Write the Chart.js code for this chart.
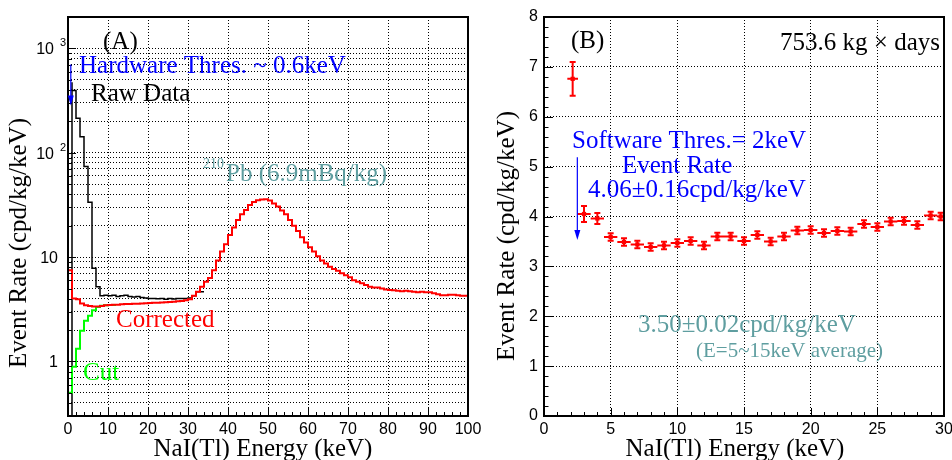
<!DOCTYPE html>
<html>
<head>
<meta charset="utf-8">
<script src="https://cdn.jsdelivr.net/npm/chart.js@4.4.1/dist/chart.umd.min.js"></script>
<style>
  body { margin: 0; background: #fff; width: 952px; height: 460px; overflow: hidden; position: relative; }
  #chartA { position: absolute; left: 0; top: 0; }
  #chartB { position: absolute; left: 476px; top: 0; }
</style>
</head>
<body>
<canvas id="chartA" width="500" height="460"></canvas>
<canvas id="chartB" width="476" height="460"></canvas>
<script>
// ---- panel A : spectra in 1 keV bins, value of bin [E, E+1) in cpd/kg/keV
const rawStart = 1;   // raw data starts at the 1-2 keV bin
const rawRate = [475, 395, 214, 142, 74, 33.5, 7.8, 5.2, 4.25,
  4.3, 4.25, 4.3, 4.2, 4.25, 4.3, 4.2, 4.15, 4.2, 4.1,
  4.05, 4.0, 4.02, 3.98, 4.0, 3.95, 4.0, 3.97, 4.0, 4.02,
  4.0, 4.05, 4.25, 4.65];
const corrRate = [28.8, 7.5, 4.0, 3.95, 3.6, 3.45, 3.4, 3.37, 3.36, 3.4,
  3.45, 3.48, 3.5, 3.5, 3.53, 3.55, 3.55, 3.57, 3.58, 3.6,
  3.62, 3.64, 3.65, 3.66, 3.68, 3.7, 3.72, 3.74, 3.77, 3.8,
  3.85, 3.95, 4.25, 4.65, 5.2, 5.8, 6.3, 7.5, 9.3, 11.3,
  13.3, 16.3, 19.2, 22.7, 25.8, 28.3, 31.5, 33.8, 35.0, 35.6,
  35.9, 34.8, 32.6, 30.5, 27.9, 25.8, 22.7, 20.0, 17.8, 15.5,
  13.8, 12.4, 11.3, 10.2, 9.3, 8.7, 8.1, 7.7, 7.4, 7.0,
  6.7, 6.4, 6.0, 5.8, 5.6, 5.4, 5.2, 5.1, 5.1, 5.0,
  4.9, 4.85, 4.8, 4.75, 4.7, 4.75, 4.7, 4.65, 4.6, 4.65,
  4.6, 4.6, 4.5, 4.4, 4.3, 4.3, 4.35, 4.35, 4.3, 4.25];
const cutRate = [1.0, 0.5, 0.89, 1.32, 1.97, 2.46, 2.74, 3.1, 3.33, 3.42, 3.45, 3.48];
const logTicks = [0.3, 0.4, 0.5, 0.6, 0.7, 0.8, 0.9, 1, 2, 3, 4, 5, 6, 7, 8, 9,
  10, 20, 30, 40, 50, 60, 70, 80, 90, 100, 200, 300, 400, 500, 600, 700, 800, 900, 1000, 2000];
const logLabels = [1, 10, 100, 1000];

// ---- panel B : event rate with errors
const rateE = [2.15, 3, 4, 5, 6, 7, 8, 9, 10, 11, 12, 13, 14, 15, 16, 17, 18, 19, 20,
  21, 22, 23, 24, 25, 26, 27, 28, 29, 29.75];
const rateVal = [6.76, 4.05, 3.96, 3.59, 3.49, 3.44, 3.39, 3.42, 3.47, 3.51, 3.42, 3.6, 3.6, 3.51,
  3.63, 3.5, 3.6, 3.72, 3.73, 3.67, 3.71, 3.7, 3.85, 3.79, 3.9, 3.91, 3.83, 4.02, 4.0];
const rateXErr = [0.4, 0.5, 0.5, 0.5, 0.5, 0.5, 0.5, 0.5, 0.5, 0.5, 0.5, 0.5, 0.5, 0.5, 0.5,
  0.5, 0.5, 0.5, 0.5, 0.5, 0.5, 0.5, 0.5, 0.5, 0.5, 0.5, 0.5, 0.5, 0.25];
const rateYErr = [0.34, 0.16, 0.11, 0.075, 0.075, 0.075, 0.075, 0.075, 0.075, 0.075, 0.075, 0.075,
  0.075, 0.075, 0.075, 0.075, 0.075, 0.075, 0.075, 0.075, 0.075, 0.075, 0.075, 0.075, 0.075,
  0.075, 0.075, 0.075, 0.075];

const TEAL = '#5f9ea0';
const SERIF = '"Liberation Serif", "Times New Roman", serif';
const SANS = '"Liberation Sans", Arial, sans-serif';

Chart.defaults.color = '#000';
Chart.defaults.font.family = SANS;

// histogram -> stepped line points, starting from the bottom of the axis
function histPoints(start, values, floor) {
  const pts = [{x: start, y: floor}];
  values.forEach((v, i) => pts.push({x: start + i, y: v}));
  pts.push({x: start + values.length, y: values[values.length - 1]});
  return pts;
}

function range(a, b, step) {
  const out = [];
  for (let v = a; v <= b + 1e-9; v += step) out.push(Math.round(v * 1000) / 1000);
  return out;
}

function drawTexts(ctx, items) {
  items.forEach(d => {
    ctx.font = (d.size || 25) + 'px ' + SERIF;
    ctx.fillStyle = d.color;
    ctx.textAlign = d.align || 'left';
    ctx.textBaseline = 'alphabetic';
    ctx.fillText(d.text, d.x, d.y);
  });
}

function drawArrow(ctx, x, y0, y1, color) {
  ctx.strokeStyle = color;
  ctx.fillStyle = color;
  ctx.lineWidth = 1.2;
  ctx.beginPath();
  ctx.moveTo(x, y0);
  ctx.lineTo(x, y1 - 6);
  ctx.stroke();
  ctx.beginPath();
  ctx.moveTo(x - 3, y1 - 10);
  ctx.lineTo(x + 3, y1 - 10);
  ctx.lineTo(x, y1);
  ctx.closePath();
  ctx.fill();
}

// frame + inward ticks, ROOT style
function frameTicks(chart, spec) {
  const {ctx, chartArea: a, scales} = chart;
  ctx.save();
  ctx.strokeStyle = '#000';
  ctx.lineWidth = 1;
  ctx.beginPath();
  const xt = (vals, len) => vals.forEach(v => {
    const px = Math.round(scales.x.getPixelForValue(v)) + 0.5;
    ctx.moveTo(px, a.bottom);
    ctx.lineTo(px, a.bottom - len);
  });
  const yt = (vals, len) => vals.forEach(v => {
    const py = Math.round(scales.y.getPixelForValue(v)) + 0.5;
    ctx.moveTo(a.left, py);
    ctx.lineTo(a.left + len, py);
  });
  xt(spec.xMajor, spec.xMajorLen);
  xt(spec.xMinor, spec.xMinorLen);
  yt(spec.yMajor, spec.yMajorLen);
  yt(spec.yMinor, spec.yMinorLen);
  ctx.stroke();
  ctx.lineWidth = 2;
  ctx.strokeRect(a.left, a.top, a.right - a.left, a.bottom - a.top);
  ctx.restore();
}

function axisTitles(ctx, xCenter, yTitleX, yCenter) {
  ctx.save();
  ctx.font = '25px ' + SERIF;
  ctx.fillStyle = '#000';
  ctx.textAlign = 'center';
  ctx.textBaseline = 'alphabetic';
  ctx.fillText('NaI(Tl) Energy (keV)', xCenter, 456);
  ctx.translate(yTitleX, yCenter);
  ctx.rotate(-Math.PI / 2);
  ctx.textBaseline = 'middle';
  ctx.fillText('Event Rate (cpd/kg/keV)', 0, 0);
  ctx.restore();
}

const gridOpts = {color: '#000', lineWidth: 1, drawTicks: false};
const borderOpts = {display: false, dash: [1, 2]};

// ---------------- panel A ----------------
const panelA = {
  id: 'panelA',
  afterDraw(chart) {
    const {ctx, scales} = chart;
    const y = scales.y;
    frameTicks(chart, {
      xMajor: range(0, 100, 10), xMajorLen: 8,
      xMinor: range(2, 98, 2), xMinorLen: 4,
      yMajor: logLabels, yMajorLen: 8,
      yMinor: logTicks.filter(v => !logLabels.includes(v)), yMinorLen: 4
    });
    ctx.save();
    // log tick labels
    ctx.fillStyle = '#000';
    ctx.textBaseline = 'alphabetic';
    logLabels.forEach(v => {
      const py = y.getPixelForValue(v);
      ctx.font = '16px ' + SANS;
      ctx.textAlign = 'right';
      if (v >= 100) {
        ctx.fillText('10', 54, py + 6);
        ctx.font = '11px ' + SANS;
        ctx.textAlign = 'left';
        ctx.fillText(String(Math.round(Math.log10(v))), 60, py - 2);
      } else {
        ctx.fillText(String(v), 58, py + 6);
      }
    });
    // hardware threshold arrow
    const ax = scales.x.getPixelForValue(0.7);
    drawArrow(ctx, ax, y.getPixelForValue(700), y.getPixelForValue(283), '#0000ff');
    drawTexts(ctx, [
      {text: '(A)', x: 103, y: 49, color: '#000'},
      {text: 'Hardware Thres. ~ 0.6keV', x: 79, y: 73, color: '#0000ff'},
      {text: 'Raw Data', x: 91, y: 101, color: '#000'},
      {text: '210', x: 203, y: 168, color: TEAL, size: 14},
      {text: 'Pb (6.9mBq/kg)', x: 226, y: 181, color: TEAL},
      {text: 'Corrected', x: 116, y: 327, color: '#ff0000'},
      {text: 'Cut', x: 83, y: 380, color: '#00ff00'}
    ]);
    axisTitles(ctx, 263, 19, 243);
    ctx.restore();
  }
};

new Chart(document.getElementById('chartA'), {
  type: 'line',
  data: {
    datasets: [
      {label: 'Corrected', data: histPoints(0, corrRate, 0.3), borderColor: '#ff0000', borderWidth: 2},
      {label: 'Cut', data: histPoints(0, cutRate, 0.3), borderColor: '#00ff00', borderWidth: 2},
      {label: 'Raw Data', data: histPoints(rawStart, rawRate, 0.3), borderColor: '#000', borderWidth: 1.5}
    ].map(d => Object.assign(d, {stepped: 'after', pointRadius: 0, fill: false, tension: 0}))
  },
  options: {
    responsive: false,
    animation: false,
    layout: {padding: {top: 17, right: 32, left: 0, bottom: 0}},
    plugins: {legend: {display: false}, tooltip: {enabled: false}},
    scales: {
      x: {
        type: 'linear', min: 0, max: 100,
        ticks: {stepSize: 10, autoSkip: false, maxRotation: 0, padding: 4, font: {size: 16}},
        grid: gridOpts, border: borderOpts,
        afterFit: s => { s.height = 44; s.paddingLeft = 0; s.paddingRight = 0; }
      },
      y: {
        type: 'logarithmic', min: 0.3, max: 2000,
        afterBuildTicks: s => { s.ticks = logTicks.map(v => ({value: v})); },
        ticks: {display: false},
        grid: gridOpts, border: borderOpts,
        afterFit: s => { s.width = 68; s.paddingTop = 0; s.paddingBottom = 0; }
      }
    }
  },
  plugins: [panelA]
});

// ---------------- panel B ----------------
const panelB = {
  id: 'panelB',
  beforeDatasetsDraw(chart) {
    const {ctx, chartArea: a, scales: {x, y}} = chart;
    ctx.save();
    ctx.beginPath();
    ctx.rect(a.left, a.top, a.right - a.left, a.bottom - a.top);
    ctx.clip();
    ctx.strokeStyle = '#ff0000';
    ctx.lineWidth = 2;
    ctx.beginPath();
    rateE.forEach((e, i) => {
      const px = x.getPixelForValue(e);
      const py = y.getPixelForValue(rateVal[i]);
      const x0 = x.getPixelForValue(e - rateXErr[i]);
      const x1 = x.getPixelForValue(e + rateXErr[i]);
      const y0 = y.getPixelForValue(rateVal[i] - rateYErr[i]);
      const y1 = y.getPixelForValue(rateVal[i] + rateYErr[i]);
      ctx.moveTo(x0, py); ctx.lineTo(x1, py);
      ctx.moveTo(px, y0); ctx.lineTo(px, y1);
      ctx.moveTo(px - 3, y0); ctx.lineTo(px + 3, y0);
      ctx.moveTo(px - 3, y1); ctx.lineTo(px + 3, y1);
    });
    ctx.stroke();
    ctx.restore();
  },
  afterDraw(chart) {
    const {ctx, scales: {x, y}} = chart;
    frameTicks(chart, {
      xMajor: range(0, 30, 5), xMajorLen: 8,
      xMinor: range(1, 29, 1), xMinorLen: 4,
      yMajor: range(0, 8, 1), yMajorLen: 9,
      yMinor: range(0.2, 7.8, 0.2), yMinorLen: 4.5
    });
    ctx.save();
    drawArrow(ctx, x.getPixelForValue(2.5), y.getPixelForValue(5.19), y.getPixelForValue(3.53), '#0000ff');
    drawTexts(ctx, [
      {text: '(B)', x: 95, y: 48, color: '#000'},
      {text: '753.6 kg \u00d7 days', x: 464, y: 50, color: '#000', align: 'right'},
      {text: 'Software Thres.= 2keV', x: 96, y: 148, color: '#0000ff'},
      {text: 'Event Rate', x: 146, y: 173, color: '#0000ff'},
      {text: '4.06\u00b10.16cpd/kg/keV', x: 112, y: 197, color: '#0000ff'},
      {text: '3.50\u00b10.02cpd/kg/keV', x: 162, y: 332, color: TEAL},
      {text: '(E=5~15keV average)', x: 220, y: 357, color: TEAL, size: 21}
    ]);
    axisTitles(ctx, 259, 31, 236);
    ctx.restore();
  }
};

new Chart(document.getElementById('chartB'), {
  type: 'scatter',
  data: {
    datasets: [{
      label: 'Event Rate',
      data: rateE.map((e, i) => ({x: e, y: rateVal[i]})),
      pointStyle: 'rect', pointRadius: 3, backgroundColor: '#ff0000', borderWidth: 0
    }]
  },
  options: {
    responsive: false,
    animation: false,
    layout: {padding: {top: 17, right: 8, left: 0, bottom: 0}},
    plugins: {legend: {display: false}, tooltip: {enabled: false}},
    scales: {
      x: {
        type: 'linear', min: 0, max: 30,
        ticks: {stepSize: 5, autoSkip: false, maxRotation: 0, padding: 4, font: {size: 16}},
        grid: gridOpts, border: borderOpts,
        afterFit: s => { s.height = 44; s.paddingLeft = 0; s.paddingRight = 0; }
      },
      y: {
        type: 'linear', min: 0, max: 8,
        ticks: {stepSize: 1, padding: 6, font: {size: 16}},
        grid: gridOpts, border: borderOpts,
        afterFit: s => { s.width = 68; s.paddingTop = 0; s.paddingBottom = 0; }
      }
    }
  },
  plugins: [panelB]
});
</script>
</body>
</html>
